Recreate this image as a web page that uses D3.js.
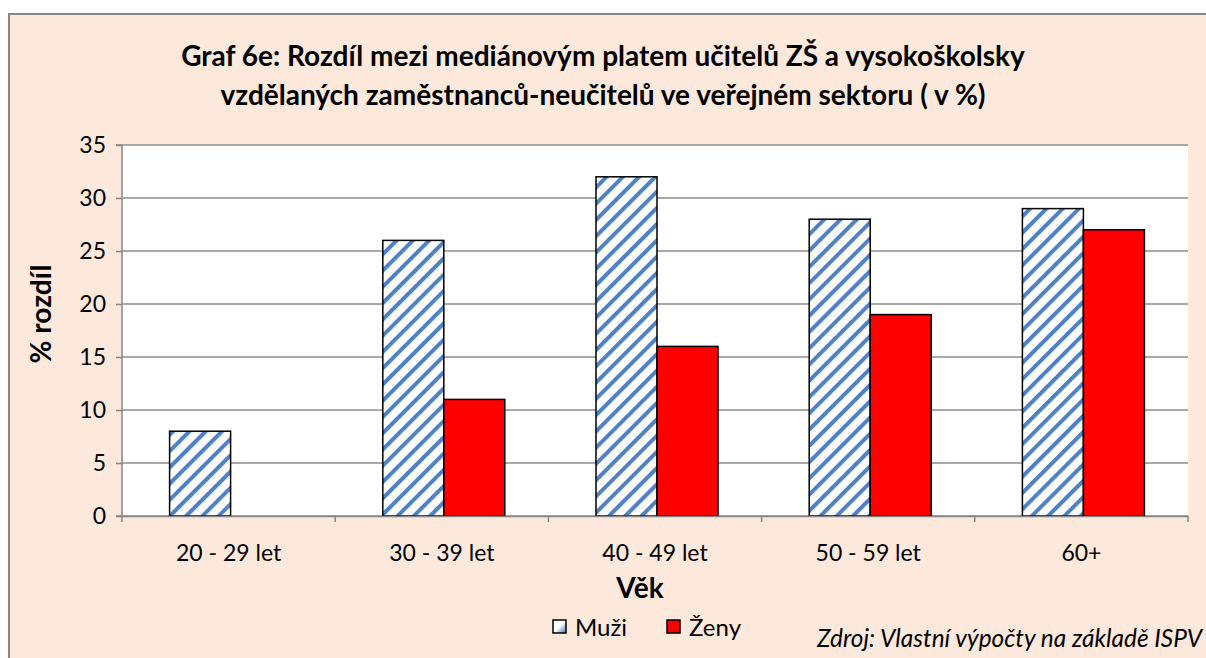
<!DOCTYPE html>
<html><head><meta charset="utf-8">
<script src="https://cdn.jsdelivr.net/npm/d3@7"></script>
<style>body{margin:0;background:#fff;} svg{display:block;}</style>
</head><body>
<script>
const categories = ["20 - 29 let","30 - 39 let","40 - 49 let","50 - 59 let","60+"];
const muzi = [8, 26, 32, 28, 29];
const zeny = [null, 11, 16, 19, 27];
const seriesNames = ["Muži","Ženy"];
const yTicks = [0,5,10,15,20,25,30,35];
const titleLines = ["Graf 6e: Rozdíl mezi mediánovým platem učitelů ZŠ a vysokoškolsky","vzdělaných zaměstnanců-neučitelů ve veřejném sektoru ( v %)"];

const W=1206,H=658;
const font="Lato, 'Open Sans', sans-serif";
const svg=d3.select("body").append("svg").attr("width",W).attr("height",H);
const defs=svg.append("defs");
const pat=defs.append("pattern").attr("id","hatch").attr("patternUnits","userSpaceOnUse")
  .attr("width",11.5).attr("height",11.5).attr("patternTransform","rotate(45)");
pat.append("rect").attr("width",11.5).attr("height",11.5).attr("fill","#fff");
pat.append("rect").attr("x",0).attr("width",4).attr("height",11.5).attr("fill","#4f81c4");
const lg=defs.append("linearGradient").attr("id","lgM").attr("x1","0").attr("y1","0").attr("x2","1").attr("y2","1");
lg.append("stop").attr("offset","0").attr("stop-color","#fff");
lg.append("stop").attr("offset","0.5").attr("stop-color","#fff");
lg.append("stop").attr("offset","1").attr("stop-color","#3b6fb6");

svg.append("rect").attr("x",9).attr("y",14).attr("width",W).attr("height",H)
  .attr("fill","#fde9db").attr("stroke","#868686").attr("stroke-width",2);

const m={l:122,r:1188,t:145,b:516};
const x=d3.scaleBand().domain(categories).range([m.l,m.r]).paddingInner(0).paddingOuter(0);
const y=d3.scaleLinear().domain([0,35]).range([m.b,m.t]);
const bw=61;
const xs=d3.scaleBand().domain(seriesNames).range([0,bw*2]);

svg.append("rect").attr("x",m.l).attr("y",m.t).attr("width",m.r-m.l).attr("height",m.b-m.t).attr("fill","#fff");

const g=svg.append("g");
g.selectAll("line.grid").data(yTicks).enter().append("line")
  .attr("x1",m.l).attr("x2",m.r).attr("y1",d=>y(d)).attr("y2",d=>y(d))
  .attr("stroke","#8c8c8c").attr("stroke-width",1.3);

const rows=categories.map((c,i)=>({c,vals:[muzi[i],zeny[i]]}));
rows.forEach(r=>{
  const x0=x(r.c)+x.bandwidth()/2-bw+2;
  r.vals.forEach((v,j)=>{
    if(v==null) return;
    g.append("rect").attr("x",x0+xs(seriesNames[j])).attr("y",y(v))
     .attr("width",xs.bandwidth()).attr("height",y(0)-y(v))
     .attr("fill",j===0?"url(#hatch)":"#ff0000").attr("stroke","#000").attr("stroke-width",1.5);
  });
});

const yAxis=d3.axisLeft(y).tickValues(yTicks).tickSize(6).tickPadding(10);
const ya=svg.append("g").attr("transform",`translate(${m.l},0)`).call(yAxis);
ya.select(".domain").attr("stroke","#868686").attr("stroke-width",1.5).attr("d",`M-6,${m.t}H0V${m.b}H-6`);
ya.selectAll(".tick line").attr("stroke","#868686").attr("stroke-width",1.5);
ya.selectAll("text").attr("font-family",font).attr("font-size",23).attr("fill","#000");

const xAxis=d3.axisBottom(x).tickSize(0).tickPadding(29);
const xa=svg.append("g").attr("transform",`translate(0,${m.b})`).call(xAxis);
xa.select(".domain").attr("stroke","#868686").attr("stroke-width",1.5);
xa.selectAll("text").attr("font-family",font).attr("font-size",23).attr("fill","#000");
const bounds=categories.map(c=>x(c)).concat([m.r]);
xa.selectAll("line.bt").data(bounds).enter().append("line").attr("class","bt")
  .attr("x1",d=>d).attr("x2",d=>d).attr("y1",0).attr("y2",6).attr("stroke","#868686").attr("stroke-width",1.5);

svg.selectAll("text.title").data(titleLines).enter().append("text")
  .attr("x",603).attr("y",(d,i)=>66+i*39).attr("text-anchor","middle")
  .attr("font-family",font).attr("font-weight","bold").attr("font-size",28).text(d=>d);

svg.append("text").attr("x",640).attr("y",598).attr("text-anchor","middle")
  .attr("font-family",font).attr("font-weight","bold").attr("font-size",28).text("Věk");
svg.append("text").attr("transform","translate(51,314) rotate(-90)").attr("text-anchor","middle")
  .attr("font-family",font).attr("font-weight","bold").attr("font-size",28).text("% rozdíl");

const leg=[{n:"Muži",x:553,f:"url(#lgM)"},{n:"Ženy",x:667,f:"#ff0000"}];
leg.forEach(l=>{
  svg.append("rect").attr("x",l.x).attr("y",620).attr("width",13).attr("height",13)
    .attr("fill",l.f).attr("stroke","#000").attr("stroke-width",1.5);
  svg.append("text").attr("x",l.x+22).attr("y",636).attr("font-family",font).attr("font-size",24).text(l.n);
});
svg.append("text").attr("x",1202).attr("y",647).attr("text-anchor","end")
  .attr("font-family",font).attr("font-style","italic").attr("font-size",24.4).text("Zdroj: Vlastní výpočty na základě ISPV");
</script>
</body></html>
